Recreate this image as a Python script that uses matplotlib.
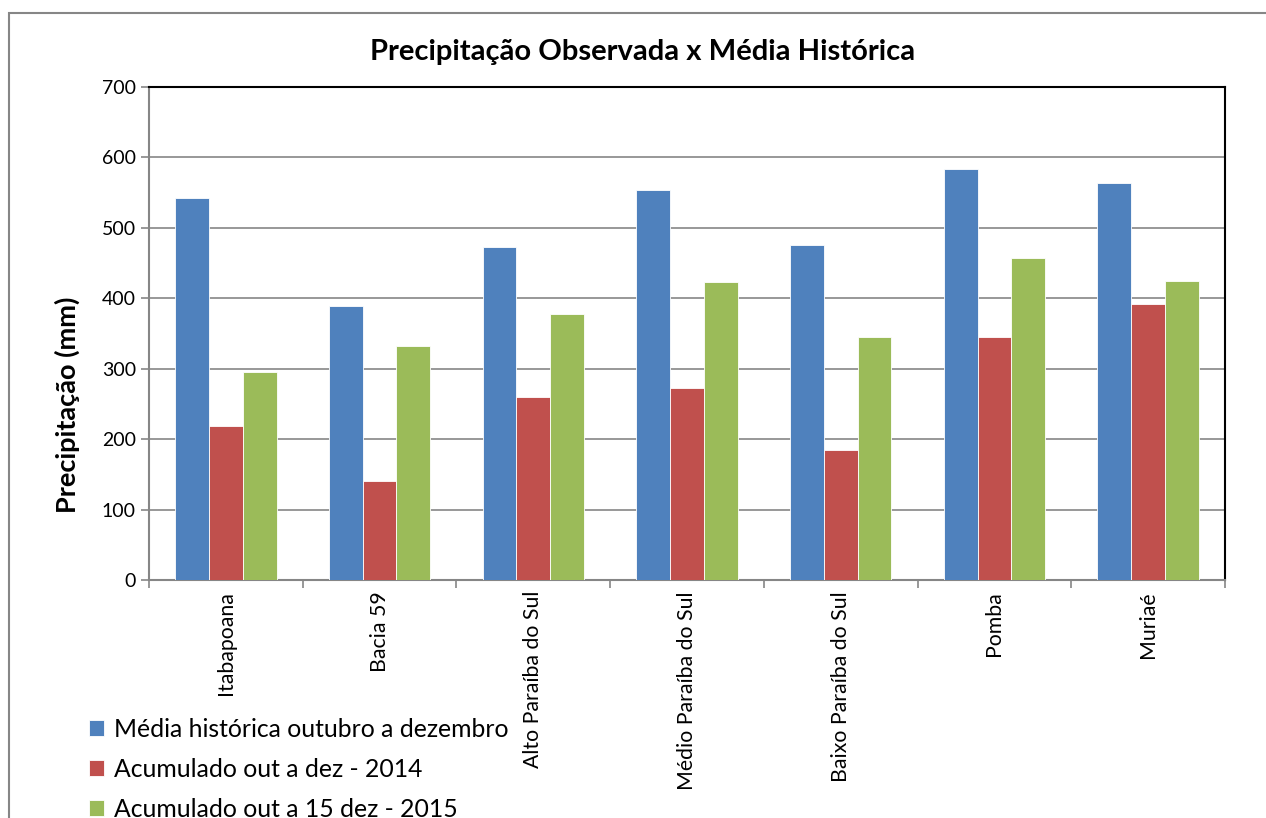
import matplotlib.pyplot as plt
import numpy as np
from matplotlib.patches import Rectangle

bacias = ["Itabapoana", "Bacia 59", "Alto Paraíba do Sul", "Médio Paraíba do Sul",
          "Baixo Paraíba do Sul", "Pomba", "Muriaé"]
media_historica = [542, 389, 473, 554, 476, 584, 564]
acum_2014 = [219, 141, 260, 273, 185, 345, 392]
acum_2015 = [295, 332, 378, 423, 345, 457, 425]

series_names = ["Média histórica outubro a dezembro",
                "Acumulado out a dez - 2014",
                "Acumulado out a 15 dez - 2015"]
cores = ["#4F81BD", "#C0504D", "#9BBB59"]

plt.rcParams['font.family'] = ['Lato', 'DejaVu Sans']

fig = plt.figure(figsize=(12.66, 8.18), dpi=100)
ax = fig.add_axes([149/1266, 1 - 580/818, (1225-149)/1266, (580-87)/818])

x = np.arange(len(bacias))
w = 0.22
for k, vals in enumerate([media_historica, acum_2014, acum_2015]):
    ax.bar(x + (k - 1) * w, vals, w, color=cores[k], edgecolor='white',
           linewidth=0.6, label=series_names[k], zorder=3)

ax.set_xlim(-0.5, len(bacias) - 0.5)
ax.set_ylim(0, 700)
ax.set_yticks(range(0, 701, 100))
ax.yaxis.grid(True, color='#868686', linewidth=1.2, zorder=0)

ax.set_xticks(x)
ax.set_xticklabels(bacias, rotation=90, fontsize=15.3)
ax.set_xticks(np.arange(-0.5, len(bacias)), minor=True)
ax.tick_params(axis='x', which='major', length=0, pad=8)
ax.tick_params(axis='x', which='minor', length=6, color='#868686', width=1.2)
ax.tick_params(axis='y', labelsize=14, length=6, color='#868686', width=1.2)

for s in ['left', 'bottom']:
    ax.spines[s].set_color('#868686')
    ax.spines[s].set_linewidth(1.5)
for s in ['top', 'right']:
    ax.spines[s].set_color('black')
    ax.spines[s].set_linewidth(1.5)

fig.text(67/1266, 1 - 405/818, "Precipitação (mm)", rotation=90,
         ha='center', va='center', fontsize=19.5, fontweight='bold')
fig.text(643/1266, 1 - 52/818, "Precipitação Observada x Média Histórica",
         ha='center', va='center', fontsize=21, fontweight='bold')

fig.legend(loc='upper left', bbox_to_anchor=(79/1266, 1 - 708/818), frameon=False,
           fontsize=17.8, handlelength=0.6, handleheight=0.6, handletextpad=0.4,
           labelspacing=0.68, borderaxespad=0)

fig.patches.append(Rectangle((9/1266, -0.05), 1.1, 1 - 13/818 + 0.05,
                             transform=fig.transFigure, fill=False,
                             edgecolor='#868686', linewidth=1.5))

fig.savefig("out.png", dpi=100)
